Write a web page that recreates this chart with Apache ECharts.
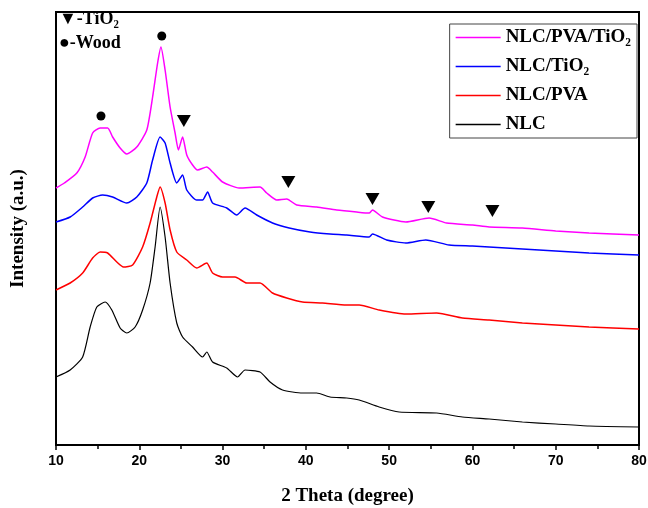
<!DOCTYPE html>
<html>
<head>
    <meta charset="utf-8">
    <title>XRD</title>
    <script src="https://cdn.jsdelivr.net/npm/echarts@6/dist/echarts.min.js"></script>
</head>
<body style="margin:0">
<div id="main" style="width:648px;height:508px;"></div>
<script type="text/javascript">
    // 2 theta positions and intensities (a.u., offset per curve)
    var magX = [10, 11, 12.5, 13.5, 14.4, 15.3, 16.2, 16.8, 17.7, 18.5, 19.7, 20.9, 21.6, 22.2, 22.6, 23.1, 23.7, 24.3, 24.7, 25.2, 25.7, 26.4, 27, 28.1, 28.8, 30, 32, 34.5, 35.3, 36.5, 37.7, 38.9, 41.3, 43.7, 46.1, 47.6, 48, 49.2, 52, 54.8, 56.9, 60, 62, 66, 70, 74, 80];
    var magY = [257, 262, 272, 288, 312, 317, 317, 308, 297, 291, 298, 315, 348, 382, 398, 375, 338, 312, 295, 308, 290, 280, 275, 278, 273, 263, 257, 258, 252, 245, 246, 240, 238, 235, 233, 232, 235, 228, 223, 227, 222, 220, 218, 217, 214, 212, 210];

    var bluX = [10, 11.7, 13.2, 14.4, 15.6, 16.8, 18.5, 19.7, 20.9, 21.6, 22.5, 23.1, 23.7, 24.5, 25.2, 25.7, 26.9, 27.6, 28.2, 28.8, 30.5, 31.7, 32.7, 34.1, 36, 38, 40.5, 42.9, 44.9, 47.6, 48, 49.7, 52, 54.4, 57.2, 60, 62, 66, 70, 74, 80];
    var bluY = [223, 228, 238, 247, 250, 248, 242, 248, 262, 285, 308, 302, 282, 262, 270, 255, 245, 245, 253, 242, 237, 230, 237, 230, 222, 217, 213, 211, 210, 208, 211, 205, 202, 205, 200, 199, 198, 196, 194, 192, 190];

    var redX = [10, 11.7, 13.2, 14.4, 15.3, 16.2, 17.3, 18.1, 19.2, 20.4, 21.3, 22.1, 22.5, 23.1, 23.7, 24.5, 25.7, 26.9, 28.1, 28.8, 30, 31.5, 32.9, 34.5, 36, 37.7, 39.6, 42, 44.9, 46.4, 48.8, 52, 55.7, 58.8, 62, 66, 70, 74, 80];
    var redY = [155, 162, 172, 187, 193, 192, 183, 178, 180, 198, 222, 248, 258, 242, 215, 193, 185, 177, 182, 172, 168, 168, 162, 162, 152, 147, 143, 142, 140, 140, 135, 131, 132, 127, 125, 122, 120, 118, 116];

    var blkX = [10, 11.7, 13.2, 14.1, 14.9, 15.9, 16.7, 17.7, 18.5, 19.5, 20.4, 21.3, 21.9, 22.5, 23.1, 23.7, 24.5, 25.2, 26.4, 27.6, 28.1, 28.8, 30.5, 31.8, 32.7, 34.5, 35.7, 37.2, 39.6, 41.3, 42.9, 44.9, 46.4, 48.8, 51.2, 55.7, 58.8, 62, 66, 70, 74, 80];
    var blkY = [68, 75, 88, 118, 138, 143, 135, 117, 112, 118, 135, 162, 198, 238, 208, 162, 122, 108, 98, 88, 93, 83, 77, 68, 75, 73, 63, 55, 52, 52, 48, 47, 45, 38, 33, 32, 28, 26, 23, 21, 19, 18];

    // peak markers
    var tioX = [25.35, 37.9, 48.0, 54.7, 62.4];
    var tioY = [324, 263, 246, 238, 234];
    var woodX = [15.4, 22.7];
    var woodY = [329, 409];

    var names = ['NLC/PVA/TiO₂', 'NLC/TiO₂', 'NLC/PVA', 'NLC'];
    var colors = ['#ff00ff', '#0000ff', '#ff0000', '#000000'];

    function zip(xs, ys) {
        var out = [];
        for (var i = 0; i < xs.length; i++) out.push([xs[i], ys[i]]);
        return out;
    }

    var myChart = echarts.init(document.getElementById('main'));
    var serif = '"Liberation Serif", "Times New Roman", serif';

    var lines = [[magX, magY], [bluX, bluY], [redX, redY], [blkX, blkY]];
    var series = [];
    for (var k = 0; k < 4; k++) {
        series.push({
            name: names[k],
            type: 'line',
            data: zip(lines[k][0], lines[k][1]),
            showSymbol: false,
            smooth: 0.2,
            color: colors[k],
            lineStyle: {width: k == 3 ? 1.2 : 1.5, color: colors[k]}
        });
    }
    series.push({
        type: 'scatter',
        data: zip(tioX, tioY),
        symbol: 'triangle',
        symbolRotate: 180,
        symbolSize: [14, 12],
        itemStyle: {color: '#000', opacity: 1},
        silent: true
    });
    series.push({
        type: 'scatter',
        data: zip(woodX, woodY),
        symbol: 'circle',
        symbolSize: 9,
        itemStyle: {color: '#000', opacity: 1},
        silent: true
    });

    var option = {
        animation: false,
        grid: {
            left: 56, right: 9, top: 12, bottom: 63,
            outerBoundsMode: 'none',
            show: true, borderColor: '#000', borderWidth: 2
        },
        legend: {
            data: names,
            orient: 'vertical',
            right: 11,
            top: 24,
            itemWidth: 45,
            itemHeight: 1.5,
            itemGap: 10,
            icon: 'rect',
            borderColor: '#444',
            borderWidth: 1,
            padding: [4, 6, 4, 6],
            textStyle: {fontFamily: serif, fontWeight: 'bold', fontSize: 19, color: '#000'}
        },
        graphic: [
            {type: 'text', left: 59, top: 10, style: {text: '▼-TiO₂', font: 'bold 18px ' + serif, fill: '#000'}},
            {type: 'text', left: 59, top: 34, style: {text: '●-Wood', font: 'bold 18px ' + serif, fill: '#000'}}
        ],
        xAxis: {
            type: 'value',
            min: 10, max: 80, interval: 10,
            name: '2 Theta (degree)',
            nameLocation: 'middle',
            nameGap: 42,
            nameTextStyle: {fontFamily: serif, fontWeight: 'bold', fontSize: 19, color: '#000'},
            axisLine: {lineStyle: {color: '#000', width: 2}},
            axisTick: {inside: false, length: 5, lineStyle: {width: 1.5}},
            minorTick: {show: true, splitNumber: 2, length: 4, lineStyle: {color: '#000', width: 1.5}},
            axisLabel: {fontFamily: 'Liberation Sans, Arial', fontWeight: 'bold', fontSize: 14, color: '#000', margin: 9},
            splitLine: {show: false}
        },
        yAxis: {
            type: 'value',
            min: 0, max: 433,
            name: 'Intensity (a.u.)',
            nameLocation: 'middle',
            nameGap: 28,
            nameTextStyle: {fontFamily: serif, fontWeight: 'bold', fontSize: 19, color: '#000'},
            axisLine: {show: true, lineStyle: {color: '#000', width: 2}},
            axisTick: {show: false},
            axisLabel: {show: false},
            splitLine: {show: false}
        },
        series: series
    };

    myChart.setOption(option);
</script>
</body>
</html>
